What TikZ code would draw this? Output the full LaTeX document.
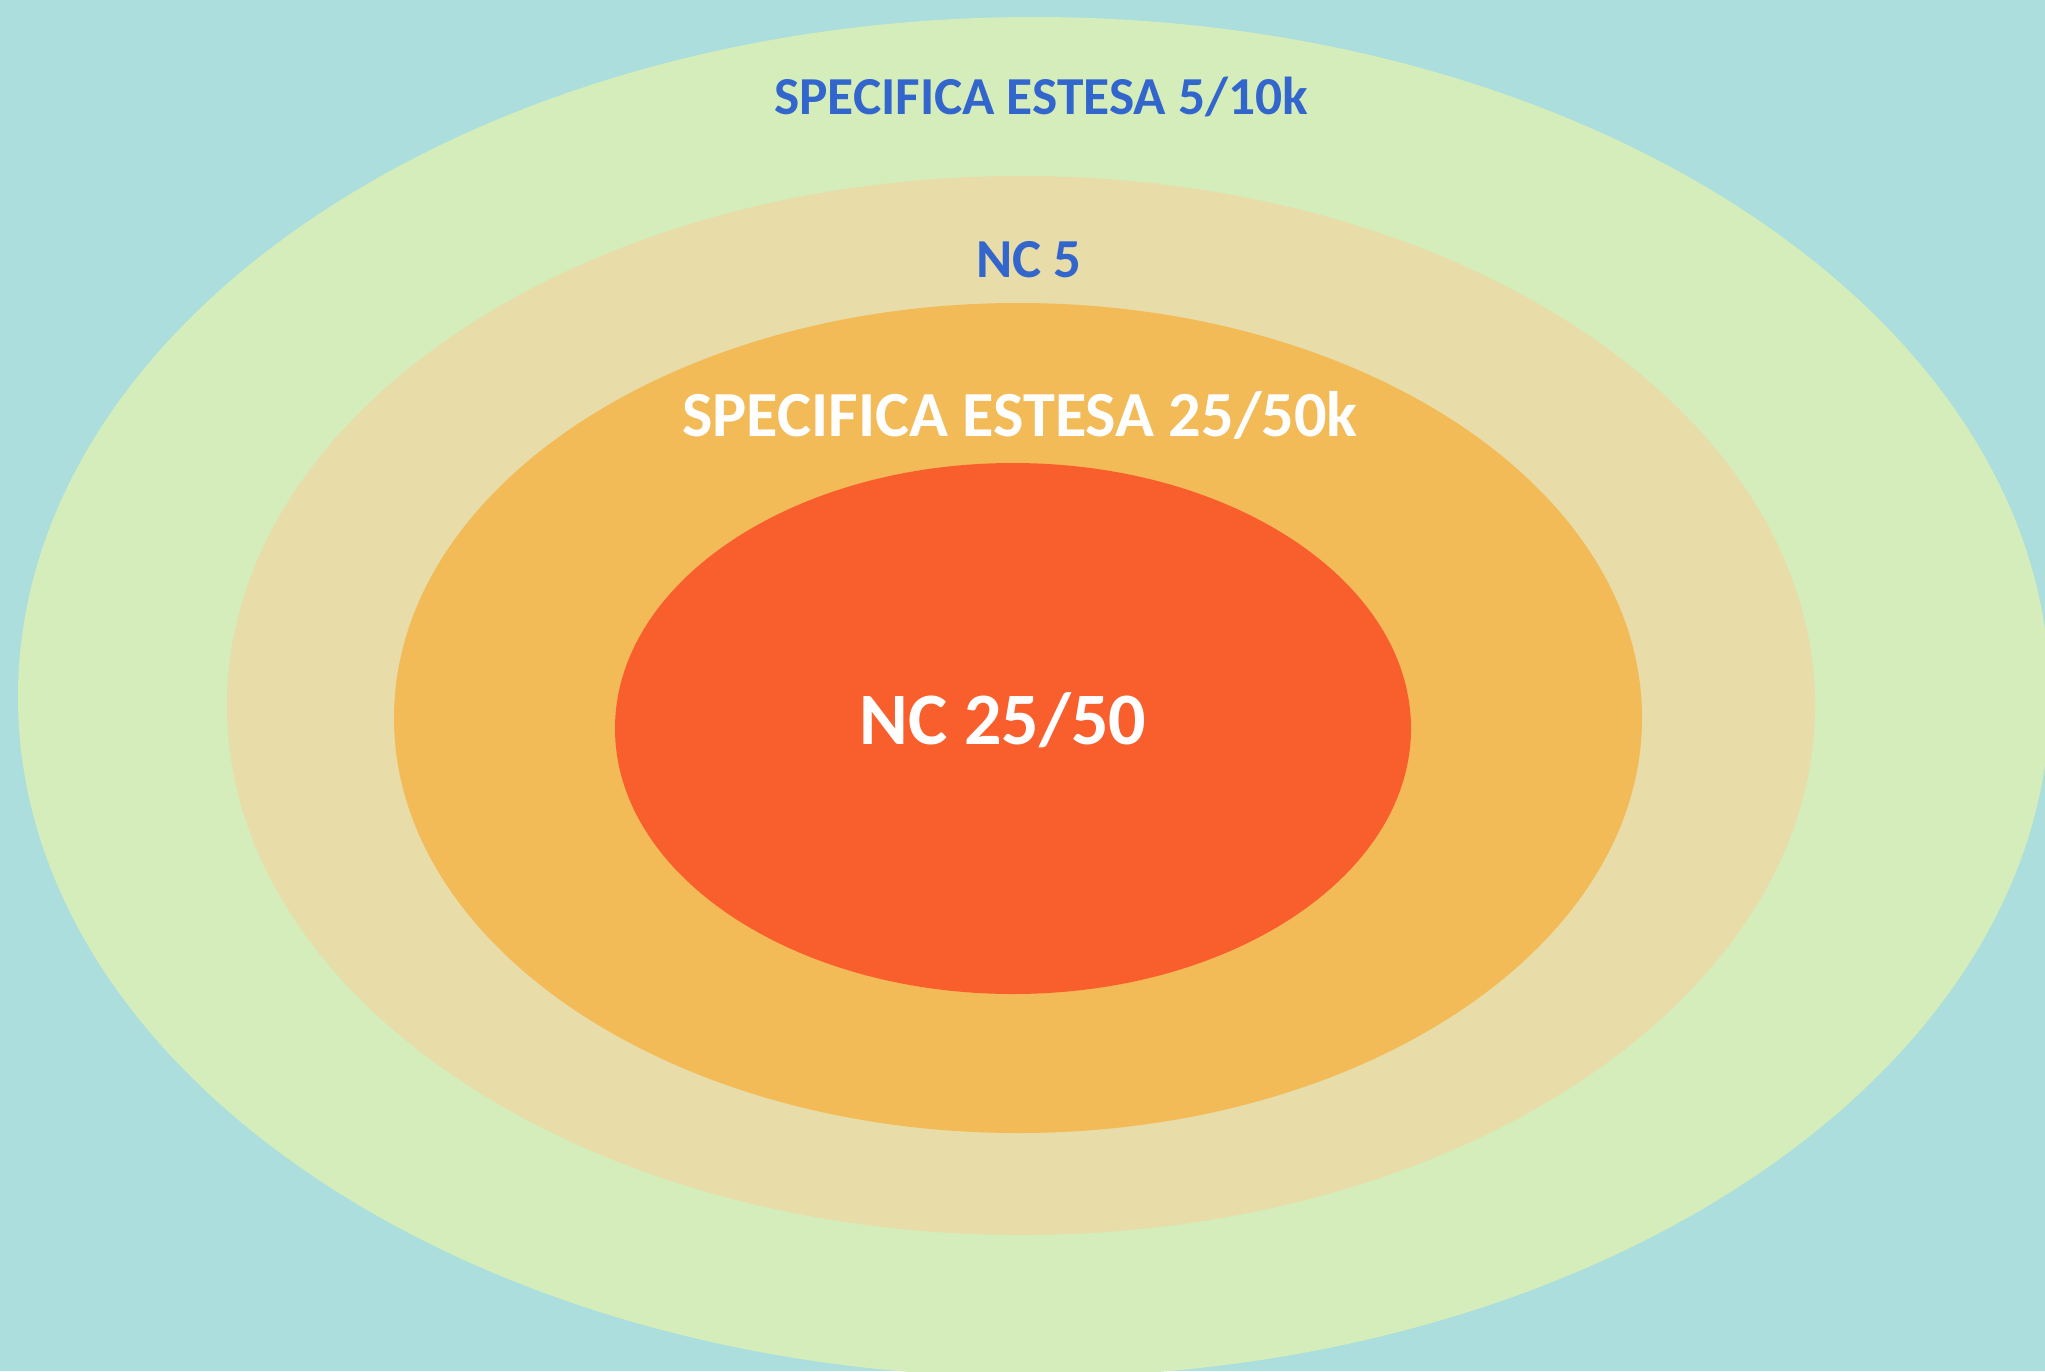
\documentclass[tikz,border=0pt]{standalone}
\usepackage{fontspec}
\setmainfont{Carlito}
\definecolor{bgteal}{HTML}{ABDEDC}
\definecolor{ringgreen}{HTML}{D4EDBB}
\definecolor{ringbeige}{HTML}{E8DCA8}
\definecolor{ringorange}{HTML}{F2BB57}
\definecolor{coreRed}{HTML}{F95F2D}
\definecolor{labelblue}{HTML}{3366CC}
\begin{document}
\begin{tikzpicture}[x=1pt,y=-1pt,
  lbl/.style={inner sep=0pt, anchor=base, font=\bfseries},
  bluelbl/.style={lbl, text=labelblue},
  whitelbl/.style={lbl, text=white}]
\useasboundingbox (0,0) rectangle (2045,1371);
\clip (0,0) rectangle (2045,1371);
\fill[bgteal] (0,0) rectangle (2045,1371);
\fill[ringgreen] (1034,697) ellipse [x radius=1016, y radius=680];
\fill[ringbeige] (1021,705.5) ellipse [x radius=794, y radius=529.5];
\fill[ringorange] (1018,718) ellipse [x radius=624, y radius=415];
\fill[coreRed] (1013,728.5) ellipse [x radius=398, y radius=265.5];
\node[bluelbl, font=\fontsize{53.4}{64}\selectfont\bfseries] (l1) at (1041,114.8) {SPECIFICA ESTESA 5/10k};
\node[bluelbl, font=\fontsize{55}{66}\selectfont\bfseries] (l2) at (1029,277.8) {NC 5};
\node[whitelbl, font=\fontsize{64.3}{77}\selectfont\bfseries] (l3) at (1020,436.9) {SPECIFICA ESTESA 25/50k};
\node[whitelbl, font=\fontsize{74}{89}\selectfont\bfseries] (l4) at (1003,744.7) {NC 25/50};
\end{tikzpicture}
\end{document}
